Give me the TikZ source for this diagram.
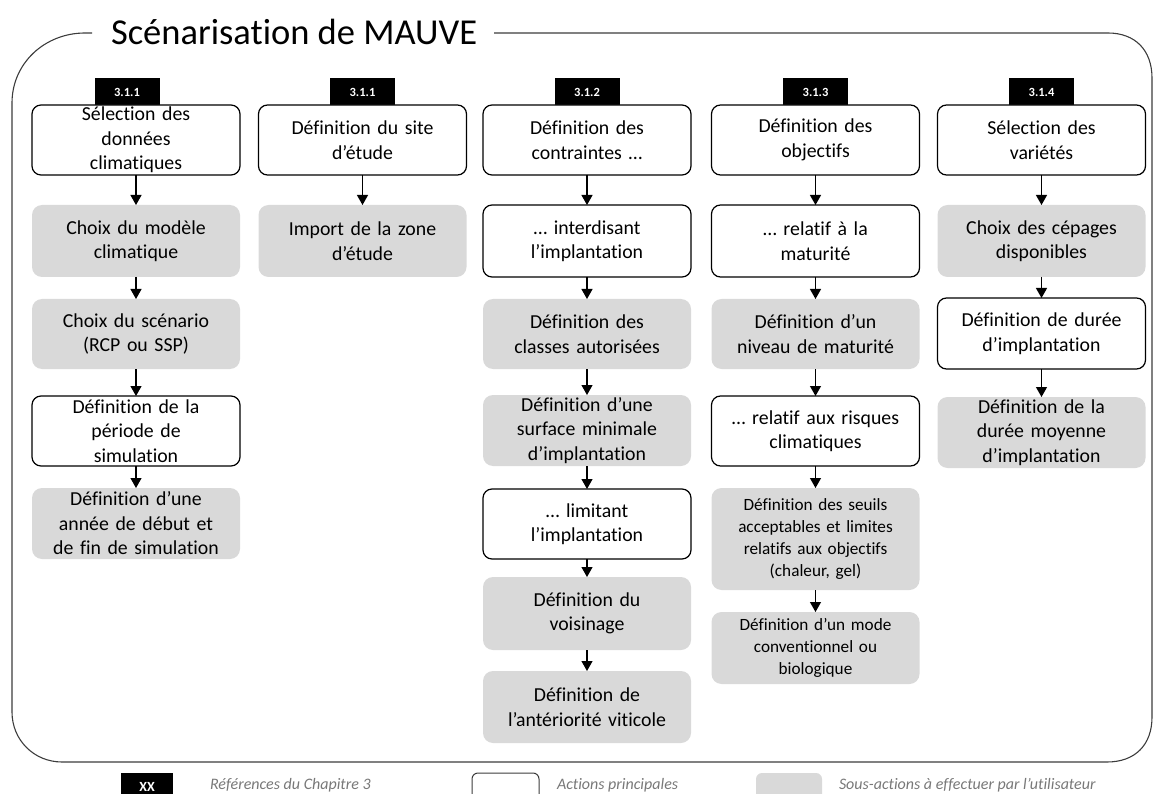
\documentclass[tikz,border=0pt]{standalone}
\usepackage{fontspec}
\setmainfont{Carlito}[Ligatures=NoCommon]
\usetikzlibrary{arrows.meta}
\definecolor{subgray}{RGB}{217,217,217}
\definecolor{legendgray}{RGB}{120,120,120}
\definecolor{framegray}{RGB}{60,60,60}
\begin{document}
\begin{tikzpicture}[x=1pt,y=-1pt,
  every node/.style={inner sep=0pt, outer sep=0pt},
  mainbox/.style={draw=black, line width=1.2pt, rounded corners=9pt, fill=white,
    minimum width=208pt, text width=206pt, align=center, font=\fontsize{19.8}{24.5}\selectfont},
  subbox/.style={fill=subgray, rounded corners=10pt,
    minimum width=208pt, text width=206pt, align=center, font=\fontsize{19.8}{24.5}\selectfont},
  smalltext/.style={font=\fontsize{17.2}{22}\selectfont},
  tagbox/.style={fill=black, text=white, minimum width=65pt, minimum height=27pt,
    font=\fontsize{12.5}{14}\selectfont\bfseries},
  arr/.style={line width=1.2pt, -{Triangle[width=11pt,length=10pt]}},
  legtext/.style={text=legendgray, font=\fontsize{16}{18}\selectfont\itshape, anchor=west},
  frame/.style={draw=framegray, line width=1.1pt}]
\useasboundingbox (0,0) rectangle (1154,794);

% frame and title
\node[anchor=base west, font=\fontsize{36.5}{40}\selectfont] (title) at (111,45) {Scénarisation de MAUVE};
\draw[frame] (494,33) -- (1108,33) .. controls (1135,33) and (1152,50) .. (1152,78)
  -- (1152,717) .. controls (1152,745) and (1135,762) .. (1107,762)
  -- (62,762) .. controls (34,762) and (12,740) .. (12,712)
  -- (12,103) .. controls (12,63) and (45,33) .. (85,33) -- (92,33);

% column 1
\node[tagbox] (t1) at (127,92) {3.1.1};
\node[mainbox, minimum height=70pt] (c1a) at (136,140) {Sélection des\\données\\climatiques};
\node[subbox, minimum height=72pt] (c1b) at (136,241) {Choix du modèle\\climatique};
\node[subbox, minimum height=70pt] (c1c) at (136,334) {Choix du scénario\\(RCP ou SSP)};
\node[mainbox, minimum height=70pt] (c1d) at (136,431) {Définition de la\\période de\\simulation};
\node[subbox, minimum height=71pt] (c1e) at (136,523.5) {Définition d’une\\année de début et\\de fin de simulation};
\draw[arr] (c1a.south) -- (c1b.north);
\draw[arr] (c1b.south) -- (c1c.north);
\draw[arr] (c1c.south) -- (c1d.north);
\draw[arr] (c1d.south) -- (c1e.north);

% column 2
\node[tagbox] (t2) at (362.5,92) {3.1.1};
\node[mainbox, minimum height=70pt] (c2a) at (362.5,140) {Définition du site\\d’étude};
\node[subbox, minimum height=72pt] (c2b) at (362.5,241) {Import de la zone\\d’étude};
\draw[arr] (c2a.south) -- (c2b.north);

% column 3
\node[tagbox] (t3) at (587,92) {3.1.2};
\node[mainbox, minimum height=70pt] (c3a) at (587,140) {Définition des\\contraintes …};
\node[mainbox, minimum height=72pt] (c3b) at (587,241) {… interdisant\\l’implantation};
\node[subbox, minimum height=70pt] (c3c) at (587,334) {Définition des\\classes autorisées};
\node[subbox, minimum height=71pt] (c3d) at (587,430.5) {Définition d’une\\surface minimale\\d’implantation};
\node[mainbox, minimum height=70pt] (c3e) at (587,524) {… limitant\\l’implantation};
\node[subbox, minimum height=73pt] (c3f) at (587,613.5) {Définition du\\voisinage};
\node[subbox, minimum height=72pt] (c3g) at (587,707) {Définition de\\l’antériorité viticole};
\draw[arr] (c3a.south) -- (c3b.north);
\draw[arr] (c3b.south) -- (c3c.north);
\draw[arr] (c3c.south) -- (c3d.north);
\draw[arr] (c3d.south) -- (c3e.north);
\draw[arr] (c3e.south) -- (c3f.north);
\draw[arr] (c3f.south) -- (c3g.north);

% column 4
\node[tagbox] (t4) at (815.5,92) {3.1.3};
\node[mainbox, minimum height=70pt] (c4a) at (815.5,140) {Définition des\\objectifs};
\node[mainbox, minimum height=72pt] (c4b) at (815.5,241) {… relatif à la\\maturité};
\node[subbox, minimum height=70pt] (c4c) at (815.5,334) {Définition d’un\\niveau de maturité};
\node[mainbox, minimum height=70pt] (c4d) at (815.5,431) {… relatif aux risques\\climatiques};
\node[subbox, smalltext, minimum height=102pt] (c4e) at (815.5,539) {Définition des seuils\\acceptables et limites\\relatifs aux objectifs\\(chaleur, gel)};
\node[subbox, smalltext, minimum height=72pt] (c4f) at (815.5,648) {Définition d’un mode\\conventionnel ou\\biologique};
\draw[arr] (c4a.south) -- (c4b.north);
\draw[arr] (c4b.south) -- (c4c.north);
\draw[arr] (c4c.south) -- (c4d.north);
\draw[arr] (c4d.south) -- (c4e.north);
\draw[arr] (c4e.south) -- (c4f.north);

% column 5
\node[tagbox] (t5) at (1041.5,92) {3.1.4};
\node[mainbox, minimum height=70pt] (c5a) at (1041.5,140) {Sélection des\\variétés};
\node[subbox, minimum height=72pt] (c5b) at (1041.5,241) {Choix des cépages\\disponibles};
\node[mainbox, minimum height=71pt] (c5c) at (1041.5,333.5) {Définition de durée\\d’implantation};
\node[subbox, minimum height=71pt] (c5d) at (1041.5,432.5) {Définition de la\\durée moyenne\\d’implantation};
\draw[arr] (c5a.south) -- (c5b.north);
\draw[arr] (c5b.south) -- (c5c.north);
\draw[arr] (c5c.south) -- (c5d.north);

% legend
\node[fill=black, text=white, minimum width=52pt, minimum height=28pt, anchor=north west,
  font=\fontsize{14}{16}\selectfont\bfseries] (legref) at (121,773) {XX};
\node[legtext] (legreftxt) at (210,785) {Références du Chapitre 3};
\node[draw=framegray, line width=1pt, rounded corners=6pt, fill=white, minimum width=67pt,
  minimum height=30pt, anchor=north west] (legmain) at (472,773) {};
\node[legtext] (legmaintxt) at (557,785) {Actions principales};
\node[fill=subgray, rounded corners=6pt, minimum width=66pt, minimum height=30pt,
  anchor=north west] (legsub) at (756,773) {};
\node[legtext] (legsubtxt) at (839,785) {Sous-actions à effectuer par l’utilisateur};
\end{tikzpicture}
\end{document}
